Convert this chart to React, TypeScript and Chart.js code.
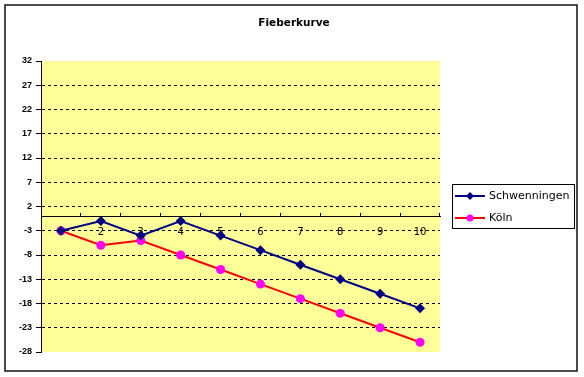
import React, { useEffect, useRef } from "react";
import { Chart, registerables } from "chart.js";

Chart.register(...registerables);

const categories = ["1", "2", "3", "4", "5", "6", "7", "8", "9", "10"];
const schwenningen = [-3, -1, -4, -1, -4, -7, -10, -13, -16, -19];
const koeln = [-3, -6, -5, -8, -11, -14, -17, -20, -23, -26];
const yMin = -28;
const yMax = 32;
const yStep = 5;
const title = "Fieberkurve";
const seriesNames = ["Schwenningen", "Köln"];

const FONT = "'DejaVu Sans', sans-serif";

export default function App() {
  const ref = useRef<HTMLCanvasElement>(null);
  useEffect(() => {
    document.body.style.margin = "0";
    const canvas = ref.current!;
    const decor = {
      id: "decor",
      beforeDraw(chart: any) {
        const { ctx, chartArea } = chart;
        ctx.save();
        ctx.fillStyle = "#ffffff";
        ctx.fillRect(0, 0, chart.width, chart.height);
        ctx.fillStyle = "#FFFF99";
        ctx.fillRect(chartArea.left, chartArea.top, chartArea.right - chartArea.left, chartArea.bottom - chartArea.top);
        ctx.restore();
      },
      afterDraw(chart: any) {
        const { ctx } = chart;
        ctx.save();
        // outer border
        ctx.strokeStyle = "#111";
        ctx.lineWidth = 1.5;
        ctx.strokeRect(5, 5, 572, 366);
        // title
        ctx.fillStyle = "#000";
        ctx.font = `bold 10.5px ${FONT}`;
        ctx.textAlign = "center";
        ctx.textBaseline = "middle";
        ctx.fillText(title, 294, 23);
        // legend
        ctx.lineWidth = 1;
        ctx.strokeStyle = "#000";
        ctx.strokeRect(452.5, 184.5, 122, 44);
        const rows = [
          { name: seriesNames[0], line: "#000080", fill: "#000080", y: 196, diamond: true },
          { name: seriesNames[1], line: "#FF0000", fill: "#FF00FF", y: 218, diamond: false },
        ];
        for (const r of rows) {
          ctx.strokeStyle = r.line;
          ctx.lineWidth = 2;
          ctx.beginPath();
          ctx.moveTo(455, r.y);
          ctx.lineTo(485, r.y);
          ctx.stroke();
          ctx.fillStyle = r.fill;
          ctx.beginPath();
          if (r.diamond) {
            ctx.moveTo(470, r.y - 4);
            ctx.lineTo(474, r.y);
            ctx.lineTo(470, r.y + 4);
            ctx.lineTo(466, r.y);
            ctx.closePath();
          } else {
            ctx.arc(470, r.y, 3.5, 0, Math.PI * 2);
          }
          ctx.fill();
          ctx.fillStyle = "#000";
          ctx.font = `11px ${FONT}`;
          ctx.textAlign = "left";
          ctx.textBaseline = "middle";
          ctx.fillText(r.name, 489, r.y);
        }
        ctx.restore();
      },
    };
    const chart = new Chart(canvas, {
      type: "line",
      data: {
        labels: categories,
        datasets: [
          {
            label: seriesNames[0],
            data: schwenningen,
            borderColor: "#000080",
            backgroundColor: "#000080",
            borderWidth: 2,
            pointStyle: "rectRot",
            pointRadius: 5,
            pointBorderWidth: 0,
            tension: 0,
          },
          {
            label: seriesNames[1],
            data: koeln,
            borderColor: "#FF0000",
            backgroundColor: "#FF00FF",
            pointBackgroundColor: "#FF00FF",
            pointBorderColor: "#FF00FF",
            borderWidth: 2,
            pointStyle: "circle",
            pointRadius: 4.5,
            pointBorderWidth: 0,
            tension: 0,
          },
        ],
      },
      plugins: [decor],
      options: {
        animation: false,
        responsive: false,
        devicePixelRatio: 1,
        layout: { padding: { left: 0, top: 61, right: 144, bottom: 25 } },
        plugins: { legend: { display: false }, tooltip: { enabled: false }, title: { display: false } },
        scales: {
          x: {
            type: "category",
            position: { y: 0 } as any,
            offset: true,
            grid: { drawOnChartArea: false, drawTicks: true, tickLength: -4, tickColor: "#000", offset: true },
            border: { display: true, color: "#000", width: 1 },
            ticks: { color: "#000", font: { family: FONT, size: 10 }, padding: 14, maxRotation: 0, autoSkip: false },
            afterFit: (s: any) => {
              s.height = 0;
            },
          },
          y: {
            type: "linear",
            position: "left",
            min: yMin,
            max: yMax,
            ticks: { stepSize: yStep, color: "#000", font: { family: "'Liberation Sans', sans-serif", size: 9, weight: "bold" }, padding: 4 },
            grid: {
              color: (c: any) => (c.tick && (c.tick.value === yMin || c.tick.value === yMax) ? "rgba(0,0,0,0)" : "#000"),
              lineWidth: 1,
              tickColor: "#000",
              tickLength: 5,
            },
            border: { display: true, color: "#000", width: 1, dash: [3, 3] },
            afterFit: (s: any) => {
              s.width = 41;
            },
          },
        },
      },
    });
    return () => chart.destroy();
  }, []);
  return <canvas ref={ref} width={584} height={377} style={{ display: "block" }} />;
}
